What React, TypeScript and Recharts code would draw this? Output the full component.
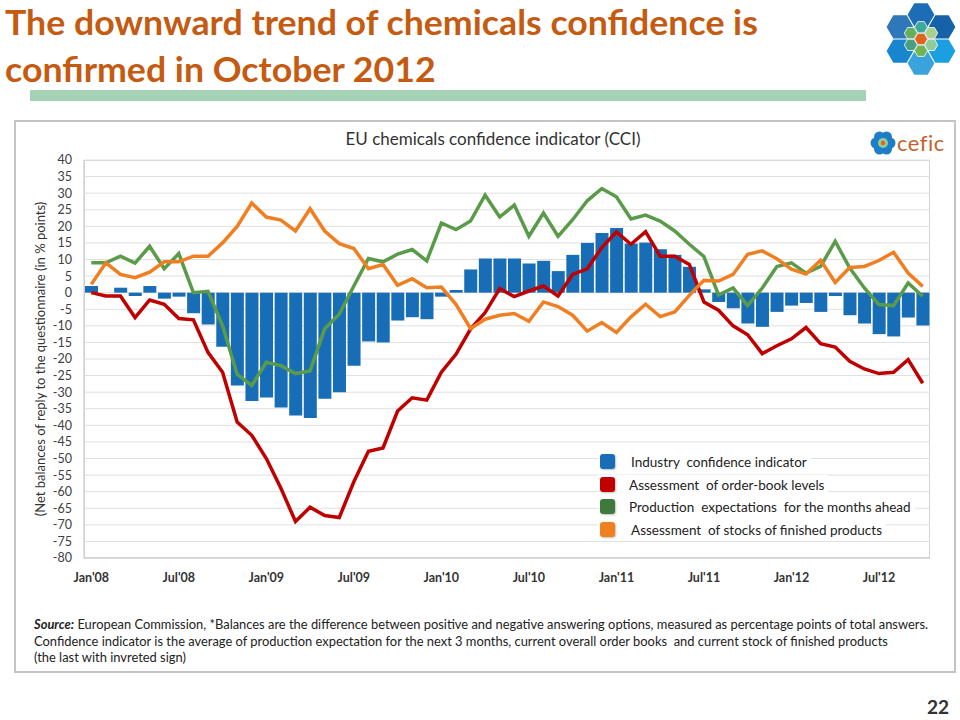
import React from 'react';
import { ComposedChart, Bar, Line, XAxis, YAxis, CartesianGrid } from 'recharts';

// Jan'08 .. Oct'12, monthly
const YEARS = ['08', '09', '10', '11', '12'];
const MONTHS = ['Jan', 'Feb', 'Mar', 'Apr', 'May', 'Jun', 'Jul', 'Aug', 'Sep', 'Oct', 'Nov', 'Dec'];
const CATEGORIES = YEARS.flatMap((y) => MONTHS.map((m) => `${m}'${y}`)).slice(0, 58);

// Industry confidence indicator (bars)
const CCI = [
  2, 0, 1.5, -1, 2, -1.8, -1.2, -6.2, -9.6, -16.3, -28, -32.7,
  -31.6, -34.6, -37, -37.8, -32, -30, -22, -14.7, -15, -8.4, -7.4, -8,
  -1.2, 0.8, 7, 10.3, 10.3, 10.3, 8.8, 9.6, 6.5, 11.4, 15, 18,
  19.5, 14.8, 15.1, 13.1, 11.4, 7.8, 1, -2.8, -4.7, -9.3, -10.3, -5.8,
  -3.9, -3.1, -5.8, -1, -6.8, -9.3, -12.5, -13.2, -7.5, -9.9,
];

// Assessment of order-book levels
const ORDER_BOOKS = [
  0, -1, -1, -7.5, -2.2, -3.5, -7.8, -8.2, -18, -24, -39, -43,
  -50, -59, -69, -64.7, -67.2, -67.8, -57, -47.8, -46.8, -35.7, -31.7, -32.4,
  -24, -18.6, -11, -6, 1.2, -1.2, 0.5, 2, -1, 5.5, 7.2, 13.6,
  18.3, 14.6, 18.4, 11, 11, 8.5, -2.8, -5.3, -10, -12.7, -18.4, -16,
  -13.9, -10.5, -15.4, -16.4, -20.7, -23, -24.4, -24, -20.2, -27.3,
];

// Production expectations for the months ahead
const PRODUCTION = [
  9, 9, 11, 8.9, 14, 7.2, 11.8, 0, 0.4, -10, -24.6, -28,
  -21, -22, -24.4, -23.6, -10.9, -6.5, 2, 10.3, 9.3, 11.6, 13, 9.6,
  21, 19, 21.6, 29.4, 22.8, 26.4, 17, 24, 17, 22, 27.7, 31.4,
  28.9, 22.2, 23.4, 21.6, 18.6, 14.6, 10.9, -0.7, 1.4, -3.9, 1.4, 7.9,
  9, 5.9, 7.9, 15.5, 7.4, 1.4, -3.6, -3.9, 2.9, -1.1,
];

// Assessment of stocks of finished products (inverted sign)
const STOCKS = [
  2.5, 9, 5.5, 4.5, 6.2, 9.3, 9.3, 11, 11, 15, 20, 27,
  22.8, 21.9, 18.6, 25.3, 18.6, 14.8, 13.3, 7.2, 8.5, 2.2, 4.2, 1.5,
  1.7, -3.5, -10.8, -8, -6.8, -6.3, -8.6, -2.8, -4.2, -6.8, -11.6, -9,
  -12, -7.3, -3.5, -7.2, -5.8, -0.8, 3.7, 3.5, 5.5, 11.6, 12.6, 10.2,
  7.1, 5.6, 9.8, 3.1, 7.6, 7.9, 9.7, 12.2, 5.9, 1.9,
];

const Y_TICKS = [40, 35, 30, 25, 20, 15, 10, 5, 0, -5, -10, -15, -20, -25, -30, -35, -40, -45, -50, -55, -60, -65, -70, -75, -80];

const SERIES = [
  { name: 'Industry  confidence indicator', color: '#176db6' },
  { name: 'Assessment  of order-book levels', color: '#c00000' },
  { name: 'Production  expectations  for the months ahead', color: '#3e7a3c' },
  { name: 'Assessment  of stocks of finished products', color: '#f07f22' },
];

const data = CATEGORIES.map((month, i) => ({
  month,
  cci: CCI[i],
  orders: ORDER_BOOKS[i],
  production: PRODUCTION[i],
  stocks: STOCKS[i],
}));

const FONT = 'Lato, "Open Sans", sans-serif';

const hexPoints = (cx: number, cy: number, r: number) =>
  [0, 60, 120, 180, 240, 300]
    .map((a) => {
      const t = (a * Math.PI) / 180;
      return `${cx + r * Math.cos(t)},${cy + r * Math.sin(t)}`;
    })
    .join(' ');

const HexLogo = () => {
  const cx = 921;
  const cy = 39;
  const R = 14;
  const d = Math.sqrt(3) * R;
  const big = [
    { a: -90, c: '#1c6db5' },
    { a: -30, c: '#1562a8' },
    { a: 30, c: '#1aa0e0' },
    { a: 90, c: '#3aa3dc' },
    { a: 150, c: '#1a85cf' },
    { a: 210, c: '#2e77b8' },
  ];
  const r = 6.5;
  const ds = Math.sqrt(3) * r + 0.5;
  const small = [
    { a: -90, c: '#3da99a' },
    { a: -30, c: '#a9d18e' },
    { a: 30, c: '#8fcb9b' },
    { a: 90, c: '#70b552' },
    { a: 150, c: '#4a9f83' },
    { a: 210, c: '#65ae5c' },
  ];
  return (
    <svg width={960} height={100} style={{ position: 'absolute', left: 0, top: 0 }}>
      {big.map((h, i) => {
        const t = (h.a * Math.PI) / 180;
        return <polygon key={i} points={hexPoints(cx + d * Math.cos(t), cy + d * Math.sin(t), R - 0.6)} fill={h.c} />;
      })}
      <polygon points={hexPoints(cx, cy, R)} fill="#1a78c2" />
      {small.map((h, i) => {
        const t = (h.a * Math.PI) / 180;
        return <polygon key={i} points={hexPoints(cx + ds * Math.cos(t), cy + ds * Math.sin(t), r)} fill={h.c} stroke="#ffffff" strokeWidth={0.8} />;
      })}
      <polygon points={hexPoints(cx, cy, r)} fill="#e0651a" stroke="#ffffff" strokeWidth={0.8} />
    </svg>
  );
};

const CeficMark = () => (
  <div style={{ position: 'absolute', left: 870, top: 130, width: 80, height: 28 }}>
    <svg width={26} height={26} style={{ position: 'absolute', left: 0, top: 0 }}>
      {[0, 60, 120, 180, 240, 300].map((a) => {
        const t = (a * Math.PI) / 180;
        return <circle key={a} cx={13 + 7 * Math.cos(t)} cy={13 + 7 * Math.sin(t)} r={5.5} fill="#1c7ec8" />;
      })}
      <circle cx={13} cy={13} r={5} fill="#8fcb9b" />
      <circle cx={13} cy={13} r={2.2} fill="#e0651a" />
    </svg>
    <span style={{ position: 'absolute', left: 27, top: -1, fontFamily: FONT, fontSize: 22, color: '#c2612b', letterSpacing: 0.5 }}>
      cefic
    </span>
  </div>
);

export default function App() {
  return (
    <div style={{ position: 'absolute', left: 0, top: 0, width: 960, height: 720, background: '#ffffff', overflow: 'hidden' }}>
      <div
        style={{
          position: 'absolute',
          left: 5,
          top: -2,
          fontFamily: FONT,
          fontWeight: 'bold',
          fontSize: 34,
          lineHeight: '47px',
          color: '#c55a11',
          whiteSpace: 'nowrap',
          transform: 'scaleX(1.05)',
          transformOrigin: 'left top',
        }}
      >
        The downward trend of chemicals confidence is
        <br />
        confirmed in October 2012
      </div>
      <div style={{ position: 'absolute', left: 30, top: 90, width: 836, height: 11, background: '#a5d1b7' }} />
      <HexLogo />

      {/* chart frame */}
      <div style={{ position: 'absolute', left: 14, top: 120, width: 942, height: 553, border: '2px solid #c4c4c4', boxSizing: 'border-box' }} />
      <div
        style={{
          position: 'absolute',
          left: 0,
          width: 986,
          top: 128,
          textAlign: 'center',
          fontFamily: FONT,
          fontSize: 17,
          color: '#333333',
        }}
      >
        EU chemicals confidence indicator (CCI)
      </div>
      <CeficMark />
      <div style={{ position: 'absolute', left: 84, top: 160, width: 846, height: 398, border: '1px solid #cdd5dd', boxSizing: 'border-box' }} />

      <div style={{ position: 'absolute', left: 0, top: 0 }}>
        <ComposedChart width={960} height={720} data={data} margin={{ top: 160, right: 30, left: 24, bottom: 132 }} barCategoryGap={1}>
          <CartesianGrid vertical={false} stroke="#e0e0e0" />
          <XAxis
            dataKey="month"
            interval={5}
            tickLine={false}
            axisLine={{ stroke: '#c8c8c8' }}
            height={30}
            tickMargin={9}
            tick={{ fontFamily: FONT, fontSize: 12.5, fontWeight: 'bold', fill: '#333333' }}
          />
          <YAxis
            type="number"
            domain={[-80, 40]}
            ticks={Y_TICKS}
            interval={0}
            width={60}
            tickLine={false}
            axisLine={{ stroke: '#c8c8c8' }}
            tickMargin={6}
            tick={{ fontFamily: FONT, fontSize: 12.5, fill: '#404040' }}
            label={{
              value: '(Net balances of reply  to the questionnaire (in % points)',
              angle: -90,
              position: 'insideLeft',
              offset: 16,
              style: { textAnchor: 'middle', fontFamily: FONT, fontSize: 13, fill: '#333333', whiteSpace: 'pre' },
            }}
          />
          <Bar dataKey="cci" fill={SERIES[0].color} isAnimationActive={false} />
          <Line type="linear" dataKey="orders" stroke={SERIES[1].color} strokeWidth={3.5} dot={false} isAnimationActive={false} />
          <Line type="linear" dataKey="production" stroke="#5a9b4a" strokeWidth={3.5} dot={false} isAnimationActive={false} />
          <Line type="linear" dataKey="stocks" stroke={SERIES[3].color} strokeWidth={3.5} dot={false} isAnimationActive={false} />
        </ComposedChart>
      </div>

      {/* legend */}
      <div style={{ position: 'absolute', left: 598, top: 452 }}>
        {SERIES.map((s, i) => (
          <div key={s.name} style={{ position: 'absolute', left: 0, top: i * 22.7, height: 20, whiteSpace: 'nowrap', background: '#ffffff', paddingRight: 4 }}>
            <span
              style={{
                position: 'absolute',
                left: 2,
                top: 2,
                width: 15,
                height: 15,
                borderRadius: 3,
                background: s.color,
                boxShadow: '1px 1px 2px rgba(0,0,0,0.25)',
              }}
            />
            <span style={{ display: 'inline-block', marginLeft: i === 0 || i === 3 ? 33 : 31, fontFamily: FONT, fontSize: 13.5, lineHeight: '20px', color: '#222222', whiteSpace: 'pre' }}>
              {s.name}
            </span>
          </div>
        ))}
      </div>

      {/* source note */}
      <div
        style={{
          position: 'absolute',
          left: 34,
          top: 616,
          fontFamily: FONT,
          fontSize: 13.5,
          lineHeight: '16.5px',
          color: '#222222',
          whiteSpace: 'pre',
          transform: 'scaleX(0.955)',
          transformOrigin: 'left top',
        }}
      >
        <b><i>Source:</i></b>
        {' European Commission, *Balances are the difference between positive and negative answering options, measured as percentage points of total answers.'}
        <br />
        {'Confidence indicator is the average of production expectation for the next 3 months, current overall order books  and current stock of finished products'}
        <br />
        {'(the last with invreted sign)'}
      </div>

      <div style={{ position: 'absolute', left: 927, top: 697, fontFamily: FONT, fontWeight: 'bold', fontSize: 19, lineHeight: '20px', color: '#333333' }}>22</div>
    </div>
  );
}
